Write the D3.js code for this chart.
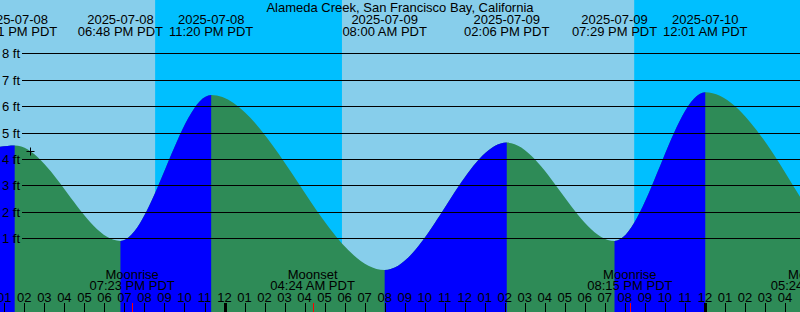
<!DOCTYPE html>
<html>
<head>
<meta charset="utf-8">
<script src="https://cdn.jsdelivr.net/npm/d3@7/dist/d3.min.js"></script>
<style>
  body { margin: 0; }
  svg { display: block; font-family: "Liberation Sans", Arial, sans-serif; font-size: 13px; }
</style>
</head>
<body>
<script>
// Station name
var title = "Alameda Creek, San Francisco Bay, California";

// Tide highs and lows (PDT)
var extremeDates = ["2025-07-08", "2025-07-08", "2025-07-08", "2025-07-09", "2025-07-09", "2025-07-09", "2025-07-10"];
var extremeTimes = ["01:31 PM", "06:48 PM", "11:20 PM", "08:00 AM", "02:06 PM", "07:29 PM", "12:01 AM"];
var extremeLevels = [4.51, 0.90, 6.42, -0.20, 4.62, 0.90, 6.53];

// Time window shown and the tide level read at both edges
var windowStart = "2025-07-08 12:47 PM";
var windowEnd = "2025-07-10 04:45 AM";
var startLevel = 4.46;
var endLevel = 2.57;

// Sunrise / sunset (daylight = light background)
var sunTimes = ["2025-07-08 08:32 PM", "2025-07-09 05:52 AM", "2025-07-09 08:28 PM"];
var sunTypes = ["set", "rise", "set"];

// Moonrise / moonset
var moonDates = ["2025-07-08", "2025-07-09", "2025-07-09", "2025-07-10"];
var moonTimes = ["07:23 PM", "04:24 AM", "08:15 PM", "05:24 AM"];
var moonTypes = ["Moonrise", "Moonset", "Moonrise", "Moonset"];

// Current time mark
var nowTime = "2025-07-08 02:17 PM";
var nowLevel = 4.3;

// Level axis
var levelTicks = [1, 2, 3, 4, 5, 6, 7, 8];

var width = 800, height = 312;
var parse = d3.timeParse("%Y-%m-%d %I:%M %p");

var svg = d3.select("body").append("svg")
    .attr("width", width)
    .attr("height", height);

// Scales
var x = d3.scaleTime()
    .domain([parse(windowStart), parse(windowEnd)])
    .range([0, width]);

var y = d3.scaleLinear()
    .domain([0, 8])
    .range([264.7, 53.3]);

// Background: night everywhere, then daylight spans on top
svg.append("rect")
    .attr("width", width)
    .attr("height", height)
    .attr("fill", "#00bfff");

var dayStart = x.domain()[0];
sunTimes.forEach(function(s, i) {
  var t = parse(s);
  if (sunTypes[i] == "rise") {
    dayStart = t;
  } else {
    svg.append("rect")
        .attr("x", x(dayStart))
        .attr("width", x(t) - x(dayStart))
        .attr("height", height)
        .attr("fill", "#87ceeb");
    dayStart = null;
  }
});
if (dayStart) {
  svg.append("rect")
      .attr("x", x(dayStart))
      .attr("width", width - x(dayStart))
      .attr("height", height)
      .attr("fill", "#87ceeb");
}

// Tide curve points
var pts = [{t: x.domain()[0], v: startLevel}];
extremeDates.forEach(function(d, i) {
  pts.push({t: parse(d + " " + extremeTimes[i]), v: extremeLevels[i]});
});
pts.push({t: x.domain()[1], v: endLevel});

var area = d3.area()
    .x(function(d) { return x(d.t); })
    .y0(height)
    .y1(function(d) { return y(d.v); })
    .curve(d3.curveMonotoneX);

// Rising parts are blue, falling parts green
var clip = svg.append("clipPath").attr("id", "rising");
for (var i = 0; i < pts.length - 1; i++) {
  if (pts[i + 1].v > pts[i].v) {
    clip.append("rect")
        .attr("x", x(pts[i].t))
        .attr("width", x(pts[i + 1].t) - x(pts[i].t))
        .attr("height", height);
  }
}

svg.append("path")
    .datum(pts)
    .attr("d", area)
    .attr("fill", "#2e8b57");

svg.append("path")
    .datum(pts)
    .attr("d", area)
    .attr("fill", "#0000ff")
    .attr("clip-path", "url(#rising)");

// Level grid lines and labels
levelTicks.forEach(function(v) {
  var yy = Math.round(y(v)) + 0.5;
  svg.append("line")
      .attr("x1", 22).attr("x2", width)
      .attr("y1", yy).attr("y2", yy)
      .attr("stroke", "black")
      .attr("shape-rendering", "crispEdges");
  svg.append("text")
      .attr("x", 20)
      .attr("y", yy)
      .attr("dy", "0.35em")
      .attr("text-anchor", "end")
      .text(v + " ft");
});

// Current time mark
var nx = Math.round(x(parse(nowTime))) + 0.5, ny = Math.round(y(nowLevel)) + 0.5;
svg.append("path")
    .attr("d", "M" + (nx - 4) + "," + ny + "H" + (nx + 4) + "M" + nx + "," + (ny - 4) + "V" + (ny + 4))
    .attr("stroke", "black")
    .attr("fill", "none");

// Title
svg.append("text")
    .attr("x", width / 2)
    .attr("y", 12)
    .attr("text-anchor", "middle")
    .text(title);

// High / low labels
extremeDates.forEach(function(d, i) {
  var ex = x(parse(d + " " + extremeTimes[i]));
  svg.append("text")
      .attr("x", ex).attr("y", 24)
      .attr("text-anchor", "middle")
      .text(d);
  svg.append("text")
      .attr("x", ex).attr("y", 36)
      .attr("text-anchor", "middle")
      .text(extremeTimes[i] + " PDT");
});

// Moon labels and red ticks
moonDates.forEach(function(d, i) {
  var mx = x(parse(d + " " + moonTimes[i]));
  svg.append("text")
      .attr("x", mx).attr("y", 278.5)
      .attr("text-anchor", "middle")
      .text(moonTypes[i]);
  svg.append("text")
      .attr("x", mx).attr("y", 290)
      .attr("text-anchor", "middle")
      .text(moonTimes[i] + " PDT");
  svg.append("line")
      .attr("x1", Math.round(mx) + 0.5).attr("x2", Math.round(mx) + 0.5)
      .attr("y1", 303).attr("y2", height)
      .attr("stroke", "red");
});

// Hour ticks along the bottom
var hours = x.ticks(d3.timeHour.every(1));
svg.selectAll(".hour")
    .data(hours)
  .enter().append("line")
    .attr("class", "hour")
    .attr("x1", function(d) { return Math.round(x(d)) + 0.5; })
    .attr("x2", function(d) { return Math.round(x(d)) + 0.5; })
    .attr("y1", 303)
    .attr("y2", height)
    .attr("stroke", "black")
    .attr("stroke-width", function(d) { return d.getHours() == 0 ? 3 : 1; });

svg.selectAll(".hourlabel")
    .data(hours)
  .enter().append("text")
    .attr("class", "hourlabel")
    .attr("x", function(d) { return x(d); })
    .attr("y", 302)
    .attr("text-anchor", "middle")
    .text(d3.timeFormat("%I"));
</script>
</body>
</html>
